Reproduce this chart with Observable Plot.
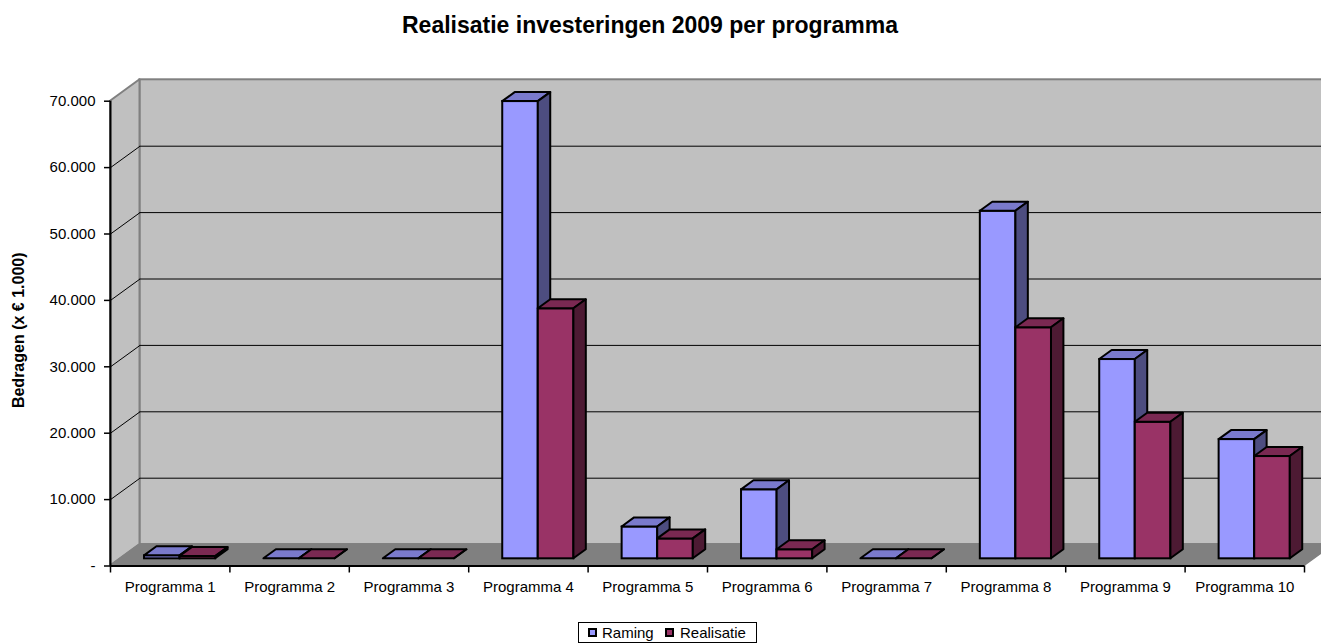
<!DOCTYPE html>
<html>
<head>
<meta charset="utf-8">
<script src="https://cdn.jsdelivr.net/npm/d3@7"></script>
<script src="https://cdn.jsdelivr.net/npm/@observablehq/plot@0.6"></script>
<style>
html, body { margin: 0; padding: 0; background: #fff; overflow: hidden; }
#wrap { position: relative; width: 1321px; height: 644px; font-family: "Liberation Sans", Arial, sans-serif; color: #000; }
#title { position: absolute; left: 0; width: 1300px; top: 12px; text-align: center; font-weight: bold; font-size: 23px; }
#chart { position: absolute; left: 0; top: 50px; }
#legend { position: absolute; left: 578px; top: 622px; width: 177px; height: 19px; border: 1px solid #000; box-sizing: content-box; font-size: 15px; line-height: 19px; }
#legend .sw { position: absolute; top: 5px; width: 9px; height: 9px; border: 2px solid #000; box-sizing: border-box; }
#legend .lb { position: absolute; top: 0; }
</style>
</head>
<body>
<div id="wrap">
  <div id="title"></div>
  <div id="chart"></div>
  <div id="legend"></div>
</div>
<script>
// ---- data ----
const chartTitle = "Realisatie investeringen 2009 per programma";
const yLabel = "Bedragen (x € 1.000)";
const programmas = ["Programma 1", "Programma 2", "Programma 3", "Programma 4", "Programma 5",
                    "Programma 6", "Programma 7", "Programma 8", "Programma 9", "Programma 10"];
const seriesNames = ["Raming", "Realisatie"];
const raming     = [450, 0, 0, 68860, 4800, 10390, 0, 52350, 30010, 17950];
const realisatie = [350, 0, 0, 37650, 3000, 1360, 0, 34790, 20570, 15400];
const yTicks = [0, 10000, 20000, 30000, 40000, 50000, 60000, 70000];
const yTickLabels = ["-", "10.000", "20.000", "30.000", "40.000", "50.000", "60.000", "70.000"];

// ---- styling / projection constants ----
const frontColors = ["#9999ff", "#993366"];
const topColors   = ["#7a7acc", "#7a2952"];
const sideColors  = ["#4d4d80", "#4d1a33"];
const W = 1321, H = 560;
const pxPerCat = 119.4, pxPerUnit = 0.00664;
const DX = 29.5 / pxPerCat;      // depth shift in x units
const DY = 21.4 / pxPerUnit;     // depth shift in y units
const F0 = 0.336, F1 = 0.757;    // bar front/back depth fraction
const BAR_OFF = 0.202, BAR_W = 0.298;
const yMax = yTicks[yTicks.length - 1];
const nCat = programmas.length;

document.getElementById("title").textContent = chartTitle;

const values = [raming, realisatie];
function barFaces(s) {
  const bars = programmas.map((p, i) => {
    const L = i + BAR_OFF + s * BAR_W, R = L + BAR_W, v = values[s][i];
    return {i, L, R, v};
  });
  const front = bars.map(d => ({x1: d.L + F0 * DX, x2: d.R + F0 * DX, y1: F0 * DY, y2: d.v + F0 * DY}));
  const top = bars.flatMap(d => [
    {id: d.i, y: d.v + F0 * DY, x1: d.L + F0 * DX, x2: d.R + F0 * DX},
    {id: d.i, y: d.v + F1 * DY, x1: d.L + F1 * DX, x2: d.R + F1 * DX}
  ]);
  const side = bars.flatMap(d => [
    {id: d.i, x: d.R + F0 * DX, y1: F0 * DY, y2: d.v + F0 * DY},
    {id: d.i, x: d.R + F1 * DX, y1: F1 * DY, y2: d.v + F1 * DY}
  ]);
  return [
    Plot.rect(front, {x1: "x1", x2: "x2", y1: "y1", y2: "y2", fill: frontColors[s], stroke: "#000", strokeWidth: 2}),
    Plot.areaX(top, {y: "y", x1: "x1", x2: "x2", z: "id", fill: topColors[s], stroke: "#000", strokeWidth: 2}),
    Plot.areaY(side, {x: "x", y1: "y1", y2: "y2", z: "id", fill: sideColors[s], stroke: "#000", strokeWidth: 2})
  ];
}

const gridVals = yTicks.filter(v => v > 0 && v < yMax);
const marginLeft = 110, marginBottom = 44.5;
const yDomainMax = 74000;
const marginTop = (H - marginBottom) - yDomainMax * pxPerUnit;
const xDomainMax = (W - marginLeft) / pxPerCat;

const plot = Plot.plot({
  width: W, height: H,
  marginLeft, marginRight: 0, marginTop, marginBottom,
  x: {domain: [0, xDomainMax]},
  y: {domain: [0, yDomainMax]},
  style: {fontFamily: "'Liberation Sans', Arial, sans-serif", fontSize: "15px", color: "#000", background: "transparent"},
  marks: [
    // back wall
    Plot.rect([{x1: DX, x2: nCat + DX + 1, y1: DY, y2: yMax + DY}], {x1: "x1", x2: "x2", y1: "y1", y2: "y2", fill: "#c0c0c0", stroke: "#808080", strokeWidth: 2}),
    // left wall
    Plot.areaY([{x: 0, y1: 0, y2: yMax}, {x: DX, y1: DY, y2: yMax + DY}], {x: "x", y1: "y1", y2: "y2", fill: "#c0c0c0", stroke: "#808080", strokeWidth: 2}),
    // floor
    Plot.areaX([{y: 0, x1: 0, x2: nCat}, {y: DY, x1: DX, x2: nCat + DX}], {y: "y", x1: "x1", x2: "x2", fill: "#808080", stroke: "#808080", strokeWidth: 1.5}),
    // gridlines
    Plot.ruleY(gridVals, {y: v => v + DY, x1: DX, x2: nCat + DX + 1, stroke: "#000", strokeWidth: 1}),
    Plot.link(gridVals, {x1: 0, y1: v => v, x2: DX, y2: v => v + DY, stroke: "#000", strokeWidth: 1}),
    // axis lines
    Plot.ruleX([0], {y1: 0, y2: yMax, stroke: "#000", strokeWidth: 2}),
    Plot.ruleY([0], {x1: 0, x2: nCat, stroke: "#000", strokeWidth: 2}),
    // axes
    Plot.axisY({ticks: yTicks, tickFormat: d => yTickLabels[yTicks.indexOf(d)], tickSize: 6, tickPadding: 9, label: null, stroke: "#000", strokeWidth: 1.5}),
    Plot.axisX({ticks: d3.range(nCat + 1), tickFormat: () => "", tickSize: 7, label: null, stroke: "#000", strokeWidth: 1.5}),
    Plot.axisX({ticks: programmas.map((p, i) => i + 0.5), tickFormat: d => programmas[Math.floor(d)], tickSize: 0, tickPadding: 15, label: null}),
    Plot.text([yLabel], {text: d => d, frameAnchor: "left", textAnchor: "middle", y: 35500, dx: -92, rotate: -90, fontWeight: "bold", fontSize: 16}),
    // bars
    ...barFaces(0),
    ...barFaces(1)
  ]
});
document.getElementById("chart").appendChild(plot);

// legend
const legend = document.getElementById("legend");
const legendPos = [{sw: 9, lb: 23}, {sw: 86, lb: 101}];
seriesNames.forEach((name, s) => {
  const sw = document.createElement("div");
  sw.className = "sw"; sw.style.left = legendPos[s].sw + "px"; sw.style.background = frontColors[s];
  const lb = document.createElement("div");
  lb.className = "lb"; lb.style.left = legendPos[s].lb + "px"; lb.textContent = name;
  legend.appendChild(sw); legend.appendChild(lb);
});
</script>
</body>
</html>
